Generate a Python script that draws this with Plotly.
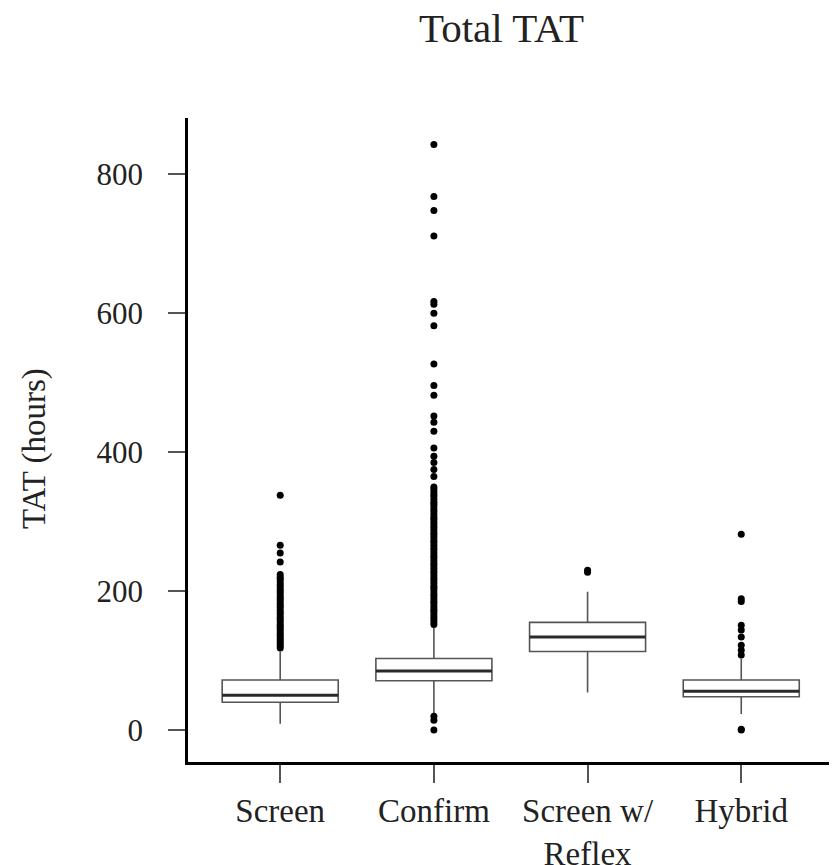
import plotly.graph_objects as go

categories = ["Screen", "Confirm", "Screen w/<br>Reflex", "Hybrid"]
q1 = [40, 71, 113, 48]
median = [50, 85, 134, 56]
q3 = [72, 103, 155, 72]
lower_whisker = [9, 22, 54, 23]
upper_whisker = [113, 147, 199, 103]

out_screen = [338, 266, 255, 242, 224, 220, 217, 213, 209, 206, 202, 199, 196, 192, 189,
              186, 182, 179, 176, 172, 169, 166, 162, 159, 156, 152, 149, 146, 143, 139,
              136, 133, 130, 127, 124, 121, 118]
out_confirm = [843, 768, 748, 711, 617, 613, 600, 582, 527, 496, 482, 452, 443, 430, 406,
               394, 385, 375, 365, 350, 347, 343, 339, 336, 332, 328, 325, 321, 317, 314,
               310, 306, 303, 299, 295, 292, 288, 284, 281, 277, 273, 270, 266, 262, 259,
               255, 251, 248, 244, 240, 237, 233, 229, 226, 222, 218, 215, 211, 207, 204,
               200, 196, 193, 189, 185, 182, 178, 174, 171, 167, 163, 160, 156, 152,
               20, 14, 0]
out_reflex = [230, 227]
out_hybrid = [282, 189, 185, 151, 144, 134, 122, 115, 108, 1, 0]
outliers = [out_screen, out_confirm, out_reflex, out_hybrid]

y_ticks = [0, 200, 400, 600, 800]
box_width = 0.755

fig = go.Figure()
positions = list(range(len(categories)))
fig.add_trace(go.Box(
    x=positions, q1=q1, median=median, q3=q3,
    lowerfence=lower_whisker, upperfence=upper_whisker,
    width=box_width, fillcolor="white",
    line=dict(color="#555555", width=1.6),
    whiskerwidth=0, boxpoints=False, showlegend=False, hoverinfo="skip"))

for i, pts in enumerate(outliers):
    fig.add_trace(go.Scatter(
        x=[positions[i]] * len(pts), y=pts, mode="markers",
        marker=dict(color="black", size=7, line=dict(width=0)),
        showlegend=False, hoverinfo="skip"))

for i, m in enumerate(median):
    fig.add_shape(type="line", xref="x", yref="y",
                  x0=positions[i] - box_width / 2, x1=positions[i] + box_width / 2,
                  y0=m, y1=m, line=dict(color="#2a2a2a", width=3), layer="above")

font_family = "Liberation Serif, Times New Roman, serif"
fig.update_layout(
    width=829, height=857,
    margin=dict(l=180, r=2, t=110, b=103),
    paper_bgcolor="white", plot_bgcolor="white",
    font=dict(family=font_family, size=32, color="#222"),
    title=dict(text="Total TAT", x=0.5953, xref="container", xanchor="center",
               y=0.977, yref="container", yanchor="middle",
               font=dict(family=font_family, size=41, color="#222")),
    xaxis=dict(range=[-0.6, 3.61], tickmode="array", tickvals=positions,
               ticktext=categories, showgrid=False, zeroline=False,
               showline=True, linecolor="black", linewidth=2.5,
               ticks="outside", ticklen=18, tickwidth=1.5, tickcolor="#555",
               ticklabelstandoff=0, automargin=False,
               tickfont=dict(family=font_family, size=33, color="#222")),
    yaxis=dict(range=[-46, 881], tickmode="array", tickvals=y_ticks,
               showgrid=False, zeroline=False,
               showline=True, linecolor="black", linewidth=2.5,
               ticks="outside", ticklen=17, tickwidth=1.5, tickcolor="#555",
               ticklabelstandoff=19, automargin=False,
               tickfont=dict(family=font_family, size=31, color="#222")),
    annotations=[dict(text="TAT (hours)", xref="paper", yref="paper",
                      x=-0.2365, y=0.4876, xanchor="center", yanchor="middle",
                      textangle=-90, showarrow=False,
                      font=dict(family=font_family, size=33, color="#222"))],
)

fig.write_html("out.html")
